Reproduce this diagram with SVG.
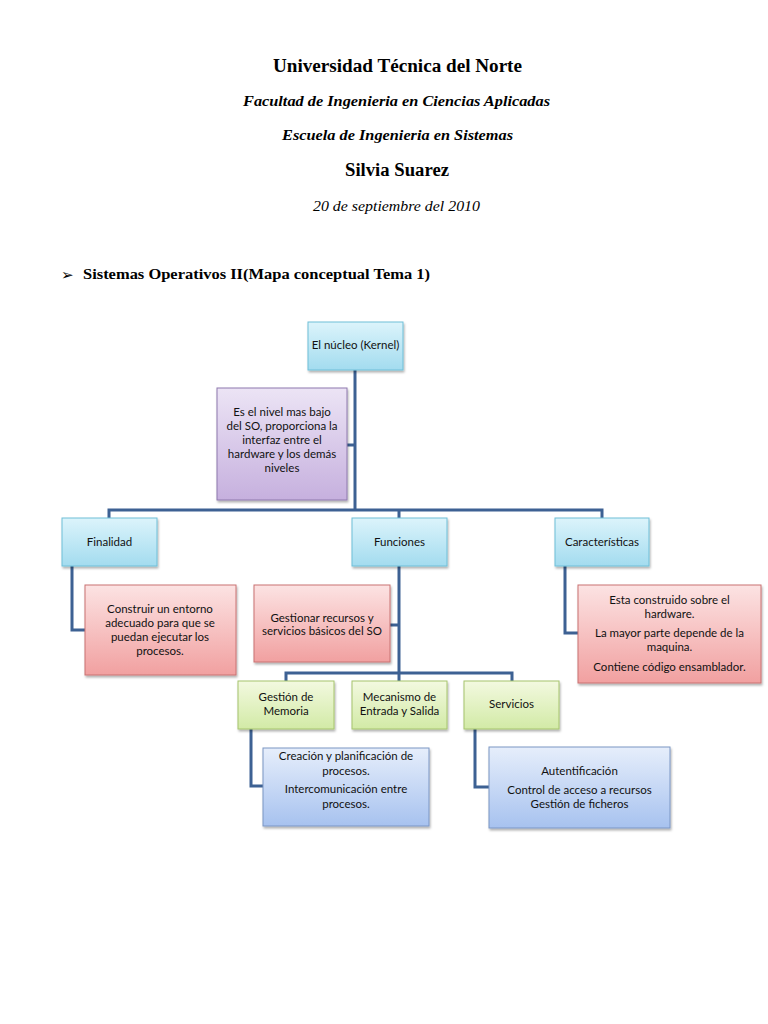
<svg xmlns="http://www.w3.org/2000/svg" width="768" height="1024" viewBox="0 0 768 1024">
<defs>
<linearGradient id="gCyan" x1="0" y1="0" x2="0" y2="1"><stop offset="0" stop-color="#dcf4fb"/><stop offset="1" stop-color="#a3dcef"/></linearGradient>
<linearGradient id="gPurple" x1="0" y1="0" x2="0" y2="1"><stop offset="0" stop-color="#ece4f5"/><stop offset="1" stop-color="#c6b0de"/></linearGradient>
<linearGradient id="gRed" x1="0" y1="0" x2="0" y2="1"><stop offset="0" stop-color="#fce3e3"/><stop offset="1" stop-color="#f1a0a0"/></linearGradient>
<linearGradient id="gGreen" x1="0" y1="0" x2="0" y2="1"><stop offset="0" stop-color="#f3f9e0"/><stop offset="1" stop-color="#d2eaa6"/></linearGradient>
<linearGradient id="gBlue" x1="0" y1="0" x2="0" y2="1"><stop offset="0" stop-color="#e6eefb"/><stop offset="1" stop-color="#a7c2ef"/></linearGradient>
<filter id="sh" x="-10%" y="-10%" width="125%" height="130%"><feDropShadow dx="1" dy="2" stdDeviation="1.2" flood-color="#000" flood-opacity="0.3"/></filter>
</defs>
<style>
.hd{font-family:"Liberation Serif","DejaVu Serif",serif;fill:#000;text-anchor:middle}
.t{font-family:Lato,"Liberation Sans",sans-serif;font-size:11.5px;fill:#111;text-anchor:middle}
.cy{fill:url(#gCyan);stroke:#6fbfd8;stroke-width:1;filter:url(#sh)}
.pu{fill:url(#gPurple);stroke:#8e79ad;stroke-width:1;filter:url(#sh)}
.rd{fill:url(#gRed);stroke:#c97272;stroke-width:1;filter:url(#sh)}
.gr{fill:url(#gGreen);stroke:#a6c46c;stroke-width:1;filter:url(#sh)}
.bl{fill:url(#gBlue);stroke:#7b96c4;stroke-width:1;filter:url(#sh)}
.cn{fill:none;stroke:#3d6193;stroke-width:3}
</style>
<rect width="768" height="1024" fill="#fff"/>
<g id="header">
<text class="hd" x="397.5" y="72" font-size="18" font-weight="bold" textLength="249" lengthAdjust="spacingAndGlyphs">Universidad Técnica del Norte</text>
<text class="hd" x="396.5" y="106" font-size="15" font-weight="bold" font-style="italic" textLength="307" lengthAdjust="spacingAndGlyphs">Facultad de Ingenieria en Ciencias Aplicadas</text>
<text class="hd" x="397.5" y="140" font-size="15" font-weight="bold" font-style="italic" textLength="231" lengthAdjust="spacingAndGlyphs">Escuela de Ingenieria en Sistemas</text>
<text class="hd" x="397" y="176" font-size="18" font-weight="bold" textLength="104" lengthAdjust="spacingAndGlyphs">Silvia Suarez</text>
<text class="hd" x="396.5" y="211" font-size="15" font-style="italic" textLength="167" lengthAdjust="spacingAndGlyphs">20 de septiembre del 2010</text>
<text x="61" y="280" font-family="'DejaVu Sans',sans-serif" font-size="15" font-weight="bold" fill="#000">➢</text>
<text x="83" y="279" font-family="'Liberation Serif','DejaVu Serif',serif" font-size="15" font-weight="bold" fill="#000" textLength="347" lengthAdjust="spacingAndGlyphs">Sistemas Operativos II(Mapa conceptual Tema 1)</text>
</g>
<g id="connectors">
<path class="cn" d="M355 370 V510"/>
<path class="cn" d="M347 445 H355"/>
<path class="cn" d="M109 518 V510 H602 V518"/>
<path class="cn" d="M399 510 V681"/>
<path class="cn" d="M72 566 V630 H85"/>
<path class="cn" d="M390 625 H399"/>
<path class="cn" d="M565 566 V633 H578"/>
<path class="cn" d="M286 681 V673 H512 V681"/>
<path class="cn" d="M251 729 V786 H263"/>
<path class="cn" d="M475 729 V787 H489"/>
</g>
<g id="kernel"><rect class="cy" x="308" y="322" width="95" height="48"/><text class="t" x="355.5" y="349">El núcleo (Kernel)</text></g>
<g id="nivel"><rect class="pu" x="217" y="388" width="130" height="112"/>
<text class="t" x="282" y="416">Es el nivel mas bajo</text>
<text class="t" x="282" y="430">del SO, proporciona la</text>
<text class="t" x="282" y="444">interfaz entre el</text>
<text class="t" x="282" y="458">hardware y los demás</text>
<text class="t" x="282" y="472">niveles</text></g>
<g id="finalidad"><rect class="cy" x="62" y="518" width="95" height="48"/><text class="t" x="109.5" y="546">Finalidad</text></g>
<g id="funciones"><rect class="cy" x="352" y="518" width="95" height="48"/><text class="t" x="399.5" y="546">Funciones</text></g>
<g id="caracteristicas"><rect class="cy" x="555" y="518" width="94" height="48"/><text class="t" x="602" y="546">Características</text></g>
<g id="construir"><rect class="rd" x="85" y="585" width="151" height="90"/>
<text class="t" x="160" y="613">Construir un entorno</text>
<text class="t" x="160" y="627">adecuado para que se</text>
<text class="t" x="160" y="641">puedan ejecutar los</text>
<text class="t" x="160" y="655">procesos.</text></g>
<g id="gestionar"><rect class="rd" x="254" y="585" width="136" height="77"/>
<text class="t" x="322" y="622">Gestionar recursos y</text>
<text class="t" x="322" y="635">servicios básicos del SO</text></g>
<g id="esta"><rect class="rd" x="578" y="585" width="183" height="98"/>
<text class="t" x="669.5" y="604">Esta construido sobre el</text>
<text class="t" x="669.5" y="618">hardware.</text>
<text class="t" x="669.5" y="637">La mayor parte depende de la</text>
<text class="t" x="669.5" y="651">maquina.</text>
<text class="t" x="669.5" y="671">Contiene código ensamblador.</text></g>
<g id="memoria"><rect class="gr" x="238" y="681" width="96" height="48"/>
<text class="t" x="286" y="701">Gestión de</text>
<text class="t" x="286" y="715">Memoria</text></g>
<g id="mecanismo"><rect class="gr" x="352" y="681" width="95" height="48"/>
<text class="t" x="399.5" y="701">Mecanismo de</text>
<text class="t" x="399.5" y="715">Entrada y Salida</text></g>
<g id="servicios"><rect class="gr" x="464" y="681" width="95" height="48"/>
<text class="t" x="511.5" y="708">Servicios</text></g>
<g id="creacion"><rect class="bl" x="263" y="748" width="166" height="78"/>
<text class="t" x="346" y="760">Creación y planificación de</text>
<text class="t" x="346" y="775">procesos.</text>
<text class="t" x="346" y="793">Intercomunicación entre</text>
<text class="t" x="346" y="808">procesos.</text></g>
<g id="autentificacion"><rect class="bl" x="489" y="747" width="181" height="81"/>
<text class="t" x="579.5" y="775">Autentificación</text>
<text class="t" x="579.5" y="794">Control de acceso a recursos</text>
<text class="t" x="579.5" y="808">Gestión de ficheros</text></g>
</svg>
